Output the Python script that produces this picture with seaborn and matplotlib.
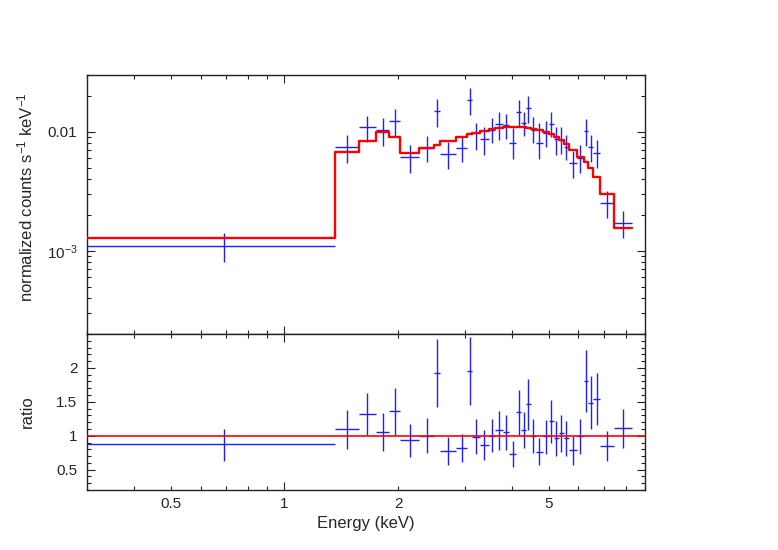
import numpy as np
import matplotlib
matplotlib.use("Agg")
import matplotlib.pyplot as plt
import seaborn as sns
from matplotlib.ticker import FixedLocator, FuncFormatter, MultipleLocator, LogLocator, NullFormatter

# bin edges (keV), first bin runs off the left of the plot
energy_edges = [0.017, 1.363, 1.571, 1.746, 1.892, 2.020, 2.271, 2.488, 2.580, 2.838,
                3.046, 3.140, 3.283, 3.474, 3.618, 3.782, 3.924, 4.111, 4.238, 4.360,
                4.485, 4.633, 4.825, 5.003, 5.157, 5.316, 5.481, 5.672, 5.943, 6.188,
                6.378, 6.575, 6.848, 7.457, 8.301]

# normalized counts s^-1 keV^-1
counts = [1.106e-3, 0.00739, 0.01102, 0.01033, 0.01238, 0.00609, 0.00734, 0.01493, 0.0065, 0.00734,
          0.01846, 0.00969, 0.00868, 0.01033, 0.01153, 0.01131, 0.00809, 0.01473, 0.01176, 0.01592,
          0.01033, 0.00798, 0.00969, 0.0116, 0.00863, 0.00852, 0.00749, 0.00549, 0.00597, 0.01014,
          0.00739, 0.00658, 0.00253, 0.00172]
counts_hi = [1.40e-3, 0.00938, 0.01355, 0.01312, 0.01542, 0.00768, 0.00926, 0.01883, 0.0082, 0.00926,
             0.02315, 0.01191, 0.01102, 0.01296, 0.01455, 0.014, 0.01067, 0.01846, 0.01473, 0.01995,
             0.01338, 0.01176, 0.0123, 0.01464, 0.01102, 0.01102, 0.00938, 0.00689, 0.00773, 0.0127,
             0.00938, 0.00852, 0.00319, 0.00216]
counts_lo = [8.08e-4, 0.00549, 0.00825, 0.00763, 0.00908, 0.00447, 0.00553, 0.01102, 0.00486, 0.00556,
             0.0139, 0.00697, 0.00637, 0.00798, 0.00852, 0.00863, 0.0059, 0.01117, 0.0092, 0.01176,
             0.00809, 0.0059, 0.00749, 0.00903, 0.00637, 0.0065, 0.00578, 0.00406, 0.00453, 0.00758,
             0.0056, 0.00498, 0.00187, 0.00127]
model = [1.271e-3, 0.0068, 0.0083, 0.00988, 0.00903, 0.00658, 0.00734, 0.00773, 0.0084, 0.00908,
         0.00956, 0.00969, 0.01014, 0.01047, 0.01067, 0.01088, 0.01095, 0.01102, 0.01095, 0.01081,
         0.01054, 0.01033, 0.00988, 0.00951, 0.00897, 0.00846, 0.00788, 0.00702, 0.00617, 0.00556,
         0.00498, 0.00419, 0.00298, 0.00156]

# data / model
ratio = [0.877, 1.098, 1.324, 1.049, 1.368, 0.931, 1.0, 1.922, 0.775, 0.819,
         1.961, 0.98, 0.858, 1.0, 1.088, 1.049, 0.735, 1.348, 1.088, 1.466,
         1.0, 0.765, 0.99, 1.221, 0.966, 1.034, 0.961, 0.789, 0.99, 1.809,
         1.48, 1.544, 0.853, 1.108]
ratio_hi = [1.099, 1.382, 1.637, 1.333, 1.711, 1.176, 1.26, 2.42, 0.975, 1.029,
            2.451, 1.245, 1.088, 1.245, 1.368, 1.304, 0.926, 1.676, 1.343, 1.833,
            1.245, 0.961, 1.235, 1.529, 1.211, 1.304, 1.221, 0.99, 1.245, 2.265,
            1.877, 1.922, 1.074, 1.397]
ratio_lo = [0.634, 0.809, 1.015, 0.770, 1.015, 0.681, 0.745, 1.417, 0.574, 0.608,
            1.456, 0.735, 0.647, 0.755, 0.794, 0.794, 0.537, 1.015, 0.819, 1.088,
            0.745, 0.564, 0.735, 0.892, 0.706, 0.755, 0.706, 0.574, 0.73, 1.343,
            1.098, 1.162, 0.623, 0.819]

x_labels = ["0.5", "1", "2", "5"]
ratio_ticks = [0.5, 1, 1.5, 2]

sns.set_style("ticks")
plt.rcParams["font.family"] = ["Liberation Sans", "DejaVu Sans"]
plt.rcParams["mathtext.fontset"] = "custom"
plt.rcParams["mathtext.rm"] = "Liberation Sans"
plt.rcParams["mathtext.it"] = "Liberation Sans:italic"
plt.rcParams["axes.linewidth"] = 1.0
plt.rcParams["axes.edgecolor"] = "#222222"

edges = np.array(energy_edges)
e_lo, e_hi = edges[:-1], edges[1:]
e_mid = (e_lo + e_hi) / 2
xerr = [e_mid - e_lo, e_hi - e_mid]

c = np.array(counts)
r = np.array(ratio)

fig = plt.figure(figsize=(7.78, 5.5), dpi=100)
ax1 = fig.add_axes([0.1118, 0.3927, 0.7172, 0.4709])
ax2 = fig.add_axes([0.1118, 0.1091, 0.7172, 0.2836], sharex=ax1)

blue = "#1f1fff"

# top panel: data + folded model
ax1.errorbar(e_mid, c, xerr=xerr, yerr=[c - np.array(counts_lo), np.array(counts_hi) - c],
             fmt="none", ecolor=blue, elinewidth=1.0, capsize=0, zorder=2)
step_x = np.append(e_lo, e_hi[-1])
step_y = np.append(model, model[-1])
sns.lineplot(x=step_x, y=step_y, drawstyle="steps-post", color="red", linewidth=1.7,
             estimator=None, sort=False, ax=ax1, zorder=3)

# bottom panel: ratio
ax2.errorbar(e_mid, r, xerr=xerr, yerr=[r - np.array(ratio_lo), np.array(ratio_hi) - r],
             fmt="none", ecolor=blue, elinewidth=1.0, capsize=0, zorder=2)
ax2.axhline(1.0, color="red", linewidth=1.2, zorder=3)

ax1.set_xscale("log")
ax1.set_yscale("log")
ax1.set_xlim(0.3, 9)
ax1.set_ylim(2e-4, 0.03)
ax2.set_ylim(0.2, 2.5)

# x ticks
ax2.xaxis.set_major_locator(FixedLocator([1]))
ax2.xaxis.set_minor_locator(FixedLocator([0.3, 0.4, 0.5, 0.6, 0.7, 0.8, 0.9,
                                          2, 3, 4, 5, 6, 7, 8, 9]))
fmt_x = FuncFormatter(lambda v, p: f"{v:g}" if f"{v:g}" in x_labels else "")
ax2.xaxis.set_major_formatter(fmt_x)
ax2.xaxis.set_minor_formatter(fmt_x)

# y ticks top
ax1.yaxis.set_major_locator(FixedLocator([1e-3, 1e-2]))
ax1.yaxis.set_major_formatter(FuncFormatter(lambda v, p: "0.01" if v > 5e-3 else r"$10^{-3}$"))
ax1.yaxis.set_minor_locator(LogLocator(base=10, subs=np.arange(2, 10)))
ax1.yaxis.set_minor_formatter(NullFormatter())

# y ticks ratio
ax2.yaxis.set_major_locator(FixedLocator(ratio_ticks))
ax2.yaxis.set_minor_locator(MultipleLocator(0.1))
ax2.yaxis.set_major_formatter(FuncFormatter(lambda v, p: f"{v:g}"))

for ax in (ax1, ax2):
    ax.tick_params(which="both", direction="in", top=True, right=True, width=0.8,
                   color="#222222", labelsize=11)
    ax.tick_params(which="major", length=5.5)
    ax.tick_params(which="minor", length=2.8)
    ax.tick_params(axis="y", which="both", pad=7)
    ax.tick_params(axis="x", which="both", pad=5)
ax1.tick_params(axis="x", which="both", labelbottom=False)

ax1.set_ylabel("normalized counts s$^{-1}$ keV$^{-1}$", fontsize=12)
ax1.yaxis.set_label_coords(-0.093, 0.53)
ax2.set_ylabel("ratio", fontsize=12)
ax2.yaxis.set_label_coords(-0.093, 0.5)
ax2.set_xlabel("Energy (keV)", fontsize=12)
ax1.set_xlabel("")

fig.savefig("out.png", dpi=100)
